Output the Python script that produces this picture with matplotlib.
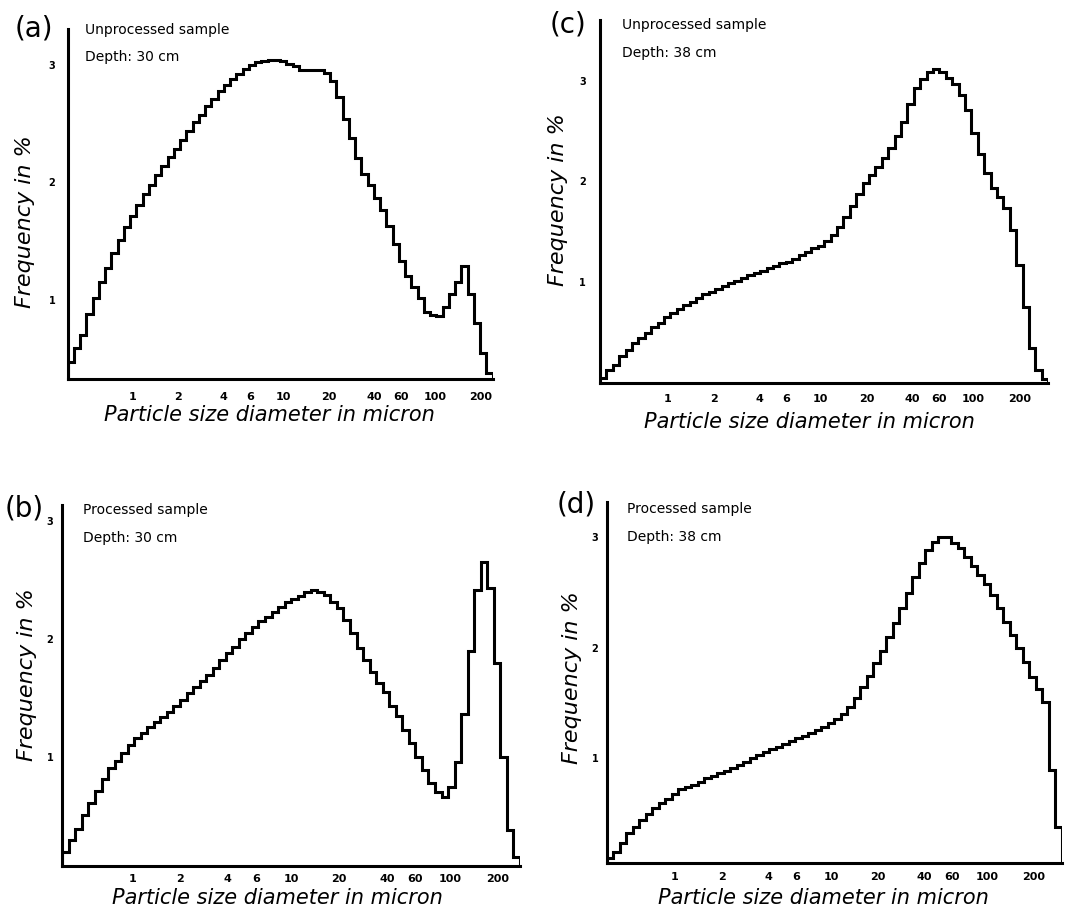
"""
Grain-size frequency histograms, unprocessed vs processed samples at two depths.
Four stepped panels on a log diameter axis, drawn in the style of the scanned figure.
"""

import matplotlib

matplotlib.use("Agg")
import matplotlib.pyplot as plt
import numpy as np
from matplotlib.ticker import NullLocator

W, H = 1081, 917

XTICKS = [1, 2, 4, 6, 10, 20, 40, 60, 100, 200]
XTICK_LABELS = ["1", "2", "4", "6", "10", "20", "40", "60", "100", "200"]
YTICKS = [1, 2, 3]
YTICK_LABELS = ["1", "2", "3"]

# lower / upper diameter (micron) covered by the channels of each panel
RANGE_A = (0.371, 242.0)
RANGE_B = (0.3625, 275.9)
RANGE_C = (0.3607, 309.6)
RANGE_D = (0.3642, 302.9)

# frequency in % per channel, read left to right
FREQ_A = [
    0.475, 0.589, 0.702, 0.881, 1.014, 1.148, 1.275, 1.397, 1.511, 1.616,
    1.715, 1.809, 1.899, 1.979, 2.058, 2.135, 2.214, 2.285, 2.362, 2.433,
    2.509, 2.574, 2.645, 2.711, 2.773, 2.830, 2.881, 2.923, 2.966, 2.994,
    3.020, 3.034, 3.043, 3.043, 3.034, 3.009, 2.986, 2.957, 2.957, 2.957,
    2.952, 2.929, 2.858, 2.725, 2.538, 2.376, 2.206, 2.072, 1.973, 1.865,
    1.766, 1.624, 1.474, 1.332, 1.204, 1.108, 1.020, 0.901, 0.872, 0.864,
    0.943, 1.051, 1.148, 1.284, 1.051, 0.807, 0.546, 0.376,
]

FREQ_B = [
    0.191, 0.291, 0.382, 0.504, 0.609, 0.711, 0.807, 0.901, 0.966, 1.034,
    1.099, 1.156, 1.204, 1.250, 1.298, 1.340, 1.383, 1.431, 1.482, 1.539,
    1.590, 1.647, 1.695, 1.757, 1.823, 1.885, 1.936, 1.999, 2.050, 2.106,
    2.149, 2.191, 2.234, 2.271, 2.311, 2.339, 2.367, 2.396, 2.413, 2.404,
    2.376, 2.311, 2.262, 2.163, 2.050, 1.922, 1.823, 1.723, 1.624, 1.545,
    1.434, 1.346, 1.227, 1.113, 1.000, 0.887, 0.773, 0.702, 0.654, 0.745,
    0.957, 1.363, 1.894, 2.413, 2.651, 2.433, 1.800, 1.000, 0.376, 0.149,
]

FREQ_C = [
    0.050, 0.132, 0.182, 0.271, 0.330, 0.396, 0.446, 0.502, 0.554, 0.601,
    0.653, 0.693, 0.733, 0.776, 0.809, 0.842, 0.884, 0.908, 0.931, 0.964,
    0.990, 1.017, 1.040, 1.073, 1.096, 1.116, 1.139, 1.162, 1.188, 1.205,
    1.228, 1.271, 1.304, 1.337, 1.360, 1.413, 1.469, 1.551, 1.650, 1.756,
    1.875, 1.987, 2.063, 2.145, 2.228, 2.327, 2.449, 2.591, 2.766, 2.931,
    3.020, 3.086, 3.119, 3.086, 3.030, 2.964, 2.855, 2.706, 2.482, 2.277,
    2.086, 1.931, 1.842, 1.733, 1.518, 1.172, 0.752, 0.347, 0.132, 0.040,
]

FREQ_D = [
    0.098, 0.158, 0.233, 0.323, 0.383, 0.444, 0.498, 0.549, 0.594, 0.630,
    0.678, 0.720, 0.744, 0.759, 0.789, 0.820, 0.841, 0.865, 0.886, 0.910,
    0.940, 0.970, 1.000, 1.030, 1.054, 1.081, 1.105, 1.129, 1.159, 1.186,
    1.205, 1.226, 1.256, 1.286, 1.316, 1.352, 1.400, 1.466, 1.547, 1.647,
    1.743, 1.857, 1.971, 2.098, 2.218, 2.353, 2.489, 2.639, 2.765, 2.880,
    2.955, 3.000, 3.000, 2.946, 2.895, 2.820, 2.735, 2.654, 2.573, 2.474,
    2.353, 2.233, 2.113, 1.992, 1.872, 1.731, 1.623, 1.511, 0.895, 0.383,
]

YLIM_A = (0.325, 3.30)
YLIM_B = (0.069, 3.14)
YLIM_C = (0.0, 3.60)
YLIM_D = (0.059, 3.316)

XLABEL = "Particle size diameter in micron"
YLABEL = "Frequency in %"

LINE_W = 2.2


def fx(x):
    return x / W


def fy(y):
    return 1 - y / H


def px_box(left, top, right, bottom):
    return [left / W, 1 - bottom / H, (right - left) / W, (bottom - top) / H]


def draw_panel(fig, p):
    ax = fig.add_axes(px_box(*p["box"]))
    values = np.asarray(p["freq"], dtype=float)
    edges = np.geomspace(p["range"][0], p["range"][1], len(values) + 1)
    ax.stairs(values, edges, baseline=p["ylim"][0], color="black", linewidth=LINE_W)

    ax.set_xscale("log")
    ax.set_xlim(edges[0], edges[-1])
    ax.set_ylim(*p["ylim"])
    ax.set_xticks(XTICKS)
    ax.set_xticklabels(XTICK_LABELS)
    ax.xaxis.set_minor_locator(NullLocator())
    ax.set_yticks(YTICKS)
    ax.set_yticklabels(YTICK_LABELS)
    ax.tick_params(axis="x", length=0, pad=p["xpad"], labelsize=8)
    ax.tick_params(axis="y", length=0, pad=p["ypad"], labelsize=7)
    for lab in ax.get_xticklabels() + ax.get_yticklabels():
        lab.set_fontweight("bold")
    ax.spines["top"].set_visible(False)
    ax.spines["right"].set_visible(False)
    for side in ("left", "bottom"):
        ax.spines[side].set_linewidth(LINE_W)
        ax.spines[side].set_capstyle("projecting")
    ax.patch.set_visible(False)

    lx, ly = p["letter_xy"]
    fig.text(fx(lx), fy(ly), p["letter"], fontsize=20, ha="center", va="center")
    sx, sy, dy = p["text_xy"]
    fig.text(fx(sx), fy(sy), p["sample"], fontsize=10, ha="left", va="center")
    fig.text(fx(sx), fy(dy), p["depth"], fontsize=10, ha="left", va="center")
    xx, xy = p["xlabel_xy"]
    fig.text(fx(xx), fy(xy), XLABEL, fontsize=15, style="italic", ha="center", va="center")
    yx, yy = p["ylabel_xy"]
    fig.text(fx(yx), fy(yy), YLABEL, fontsize=16, style="italic", ha="center", va="center",
             rotation=90)


def main():
    panels = [
        dict(letter="(a)", sample="Unprocessed sample", depth="Depth: 30 cm",
             freq=FREQ_A, range=RANGE_A, ylim=YLIM_A, xpad=9, ypad=9,
             box=(67.7, 29.3, 492.7, 379.3), letter_xy=(34, 29), text_xy=(85, 30, 57),
             xlabel_xy=(269, 415), ylabel_xy=(25, 222)),
        dict(letter="(b)", sample="Processed sample", depth="Depth: 30 cm",
             freq=FREQ_B, range=RANGE_B, ylim=YLIM_B, xpad=6, ypad=6.5,
             box=(62.3, 505, 520, 866), letter_xy=(24, 509), text_xy=(83, 510, 538),
             xlabel_xy=(277, 898), ylabel_xy=(27, 675)),
        dict(letter="(c)", sample="Unprocessed sample", depth="Depth: 38 cm",
             freq=FREQ_C, range=RANGE_C, ylim=YLIM_C, xpad=7.5, ypad=10,
             box=(600, 20, 1048.3, 383.3), letter_xy=(568, 24), text_xy=(622, 25, 53),
             xlabel_xy=(809, 422), ylabel_xy=(558, 200)),
        dict(letter="(d)", sample="Processed sample", depth="Depth: 38 cm",
             freq=FREQ_D, range=RANGE_D, ylim=YLIM_D, xpad=7, ypad=6,
             box=(606.7, 501.7, 1061.7, 862.7), letter_xy=(576, 504), text_xy=(627, 509, 537),
             xlabel_xy=(823, 898), ylabel_xy=(572, 678)),
    ]

    fig = plt.figure(figsize=(W / 100, H / 100), dpi=100)
    fig.patch.set_facecolor("white")
    for p in panels:
        draw_panel(fig, p)
    fig.savefig("out.png", dpi=100, facecolor="white")
    plt.close(fig)


if __name__ == "__main__":
    main()
